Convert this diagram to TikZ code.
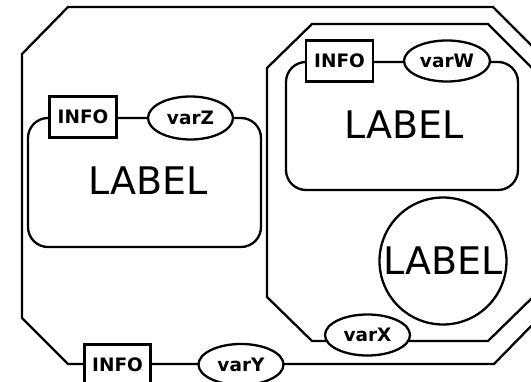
\documentclass[tikz,border=0pt]{standalone}
\usepackage{fontspec}
\setmainfont{DejaVu Sans}
\usetikzlibrary{shapes.geometric}
\begin{document}
\begin{tikzpicture}[x=1pt,y=-1pt,
  ln/.style={line width=2.3pt},
  info/.style={draw,ln,fill=white,rectangle,minimum width=67pt,minimum height=41pt,inner sep=0pt,font=\fontsize{18.5}{18.5}\selectfont\bfseries},
  var/.style={draw,ln,fill=white,ellipse,minimum width=85pt,minimum height=41pt,inner sep=0pt,font=\fontsize{18.5}{18.5}\selectfont\bfseries},
  big/.style={inner sep=0pt,font=\fontsize{38}{38}\selectfont},
  compart/.style={draw,ln,rectangle,rounded corners=20pt,inner sep=0pt}]
\useasboundingbox (0,0) rectangle (531,382);
% outer octagon
\draw[ln,line join=miter] (68,7) -- (493,7) -- (540,54) -- (540,317) -- (494,364) -- (68,364) -- (22,318) -- (22,54) -- cycle;
% inner octagon
\draw[ln,line join=miter] (312,24) -- (488,24) -- (533,69) -- (533,297) -- (488,341) -- (312,341) -- (267,297) -- (267,68) -- cycle;
% compartments
\node[compart,minimum width=233pt,minimum height=129pt] (boxZ) at (144.5,182.5) {};
\node[compart,minimum width=232pt,minimum height=128pt] (boxW) at (402,126) {};
\node[big] (labZ) at (148,181) {LABEL};
\node[big] (labW) at (404,125) {LABEL};
\node[draw,ln,circle,minimum size=127pt,big] (circ) at (443,261) {LABEL};
% units of information and state variables
\node[info] (infoZ) at (83,117) {INFO};
\node[var,minimum height=43pt] (varZ) at (190.5,118) {varZ};
\node[info] (infoW) at (339.5,61) {INFO};
\node[var,minimum width=86pt] (varW) at (447,61) {varW};
\node[var] (varX) at (367.5,335) {varX};
\node[info,minimum width=66pt,minimum height=40pt] (infoY) at (117.5,364.5) {INFO};
\node[var] (varY) at (241,364.5) {varY};
\end{tikzpicture}
\end{document}
